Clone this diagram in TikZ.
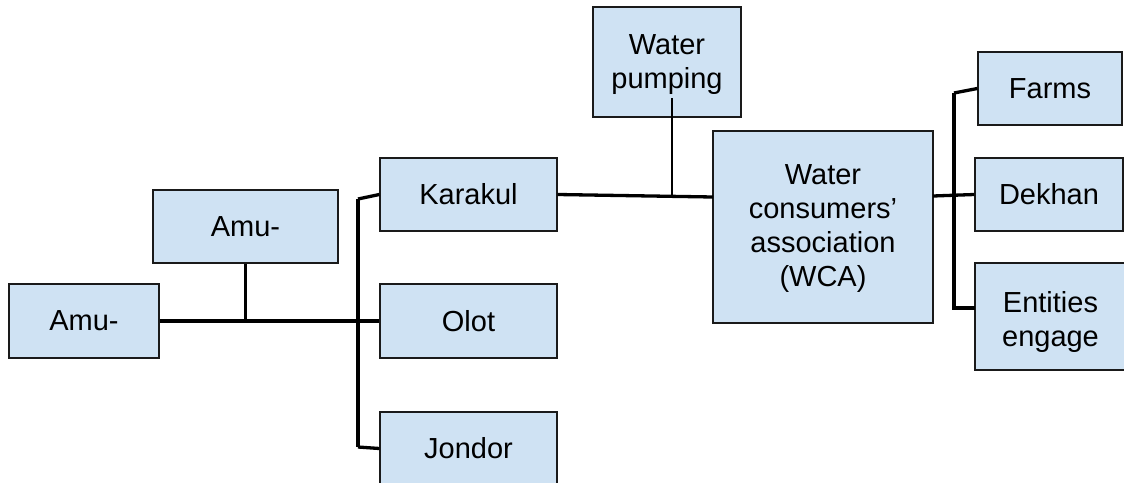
\documentclass[tikz,border=0pt]{standalone}
\usepackage{fontspec}
\setmainfont{Liberation Sans}
\definecolor{boxfill}{HTML}{CFE2F3}
\definecolor{boxline}{HTML}{1A1A1A}
\tikzset{
  box/.style={draw=boxline, fill=boxfill, line width=1.4pt, inner sep=0pt,
    align=center, font=\fontsize{29}{34}\selectfont},
  conn/.style={line width=3.3pt, black},
  thinconn/.style={line width=1.2pt, black}
}
\begin{document}
\begin{tikzpicture}[x=1pt, y=-1pt]
\useasboundingbox (0,0) rectangle (1124,482);
\clip (0,0) rectangle (1124,482);
% boxes
\node[box, minimum width=150pt, minimum height=74pt] (amu1) at (84,321) {Amu-};
\node[box, minimum width=185pt, minimum height=73pt] (amu2) at (245.5,226.5) {Amu-};
\node[box, minimum width=177pt, minimum height=73pt] (karakul) at (468.5,194.5) {Karakul};
\node[box, minimum width=177pt, minimum height=74pt] (olot) at (468.5,321) {Olot};
\node[box, minimum width=177pt, minimum height=73pt] (jondor) at (468.5,448.5) {Jondor};
\node[box, minimum width=148pt, minimum height=110pt] (pump) at (667,62) {};
\node[font=\fontsize{29}{34}\selectfont, align=center, inner sep=0pt] (pumptext) at (667,65) {Water\\pumping};
\node[box, minimum width=220pt, minimum height=192pt] (wca) at (823,227) {};
\node[font=\fontsize{29}{34}\selectfont, align=center, inner sep=0pt] (wcatext) at (823,229) {Water\\consumers’\\association\\(WCA)};
\node[box, minimum width=144pt, minimum height=73pt] (farms) at (1050,88.5) {Farms};
\node[box, minimum width=148pt, minimum height=73pt] (dekhan) at (1049,194.5) {Dekhan};
\node[box, minimum width=151pt, minimum height=107pt] (entities) at (1050.5,316.5) {};
\node[font=\fontsize{29}{34}\selectfont, align=center, inner sep=0pt] (enttext) at (1050.5,322) {Entities\\engage};
% helper coordinates
\coordinate (b1t) at (358,199);
\coordinate (b1b) at (358,447);
\coordinate (wcain) at (713,197);
\coordinate (pt) at (672,98);
\coordinate (pb) at (672,195);
\coordinate (wcaout) at (933,196);
\coordinate (b2t) at (954,93);
\coordinate (b2b) at (954,310);
\coordinate (b2e) at (954,308);
\coordinate (entin) at (975,308);
% connectors
\draw[conn] (amu1.east) -- (olot.west);
\draw[conn] (amu2.south) -- (amu2.south |- amu1.east);
\draw[conn] (b1t) -- (b1b);
\draw[conn] (b1t) -- (karakul.west);
\draw[conn] (b1b) -- (jondor.west);
\draw[conn] (karakul.east) -- (wcain);
\draw[thinconn] (pt) -- (pb);
\draw[conn] (wcaout) -- (dekhan.west);
\draw[conn] (b2t) -- (b2b);
\draw[conn] (b2t) -- (farms.west);
\draw[conn] (b2e) -- (entin);
\end{tikzpicture}
\end{document}
